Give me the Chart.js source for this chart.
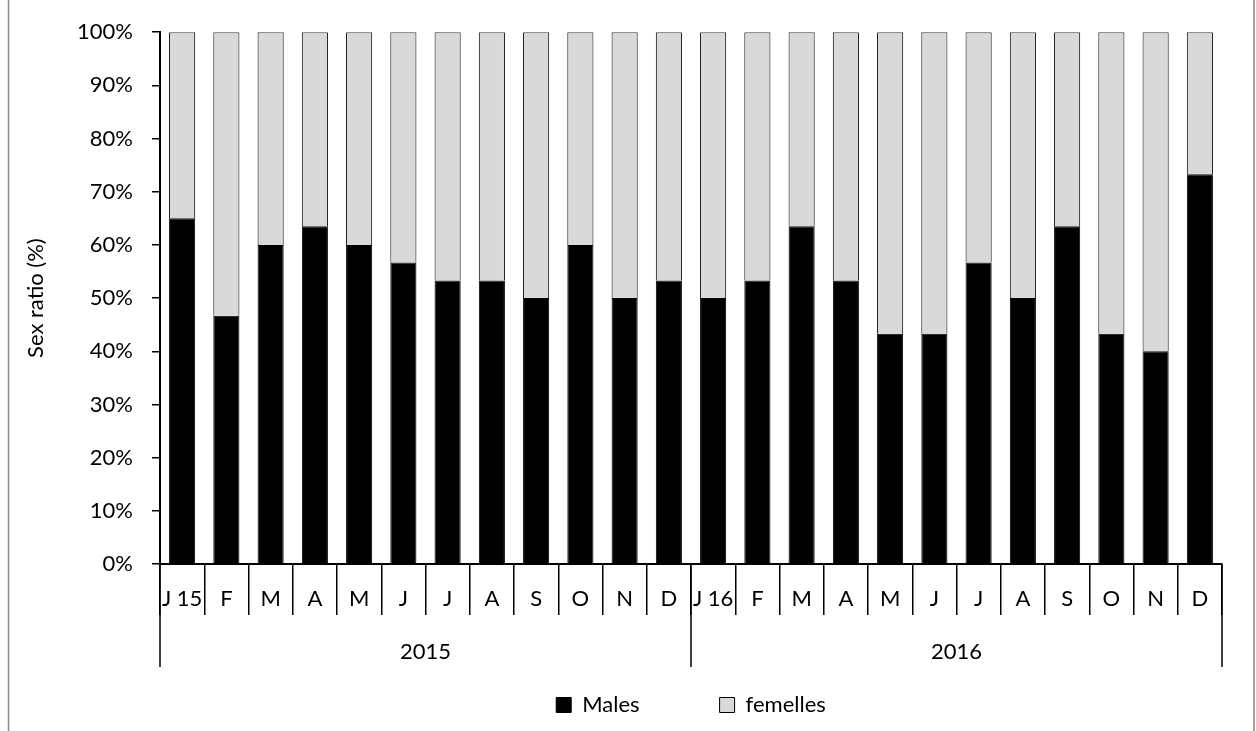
<!DOCTYPE html>
<html>
<head>
<meta charset="utf-8">
<script src="https://cdn.jsdelivr.net/npm/chart.js@4/dist/chart.umd.min.js"></script>
<style>
  body { margin: 0; background: #fff; }
  #wrap { width: 1256px; height: 731px; }
</style>
</head>
<body>
<div id="wrap"><canvas id="sexChart" width="1256" height="731"></canvas></div>
<script>
var months = ['J 15', 'F', 'M', 'A', 'M', 'J', 'J', 'A', 'S', 'O', 'N', 'D',
              'J 16', 'F', 'M', 'A', 'M', 'J', 'J', 'A', 'S', 'O', 'N', 'D'];
var years = ['2015', '2016'];
var monthsPerYear = 12;
var males = [65, 46.7, 60, 63.5, 60, 56.7, 53.3, 53.3, 50, 60, 50, 53.3,
             50, 53.3, 63.5, 53.3, 43.3, 43.3, 56.7, 50, 63.5, 43.3, 40, 73.3];
var femelles = [35, 53.3, 40, 36.5, 40, 43.3, 46.7, 46.7, 50, 40, 50, 46.7,
                50, 46.7, 36.5, 46.7, 56.7, 56.7, 43.3, 50, 36.5, 56.7, 60, 26.7];
var yTicks = [0, 10, 20, 30, 40, 50, 60, 70, 80, 90, 100];

var fontFamily = 'Lato';
var fontSize = 22;

// year row + long separators under the month axis, plus the outer frame
var yearAxis = {
     id: 'yearAxis',
     afterDraw: function(chart) {
          var ctx = chart.ctx;
          var x = chart.scales.x;
          var step = x.getPixelForValue(1) - x.getPixelForValue(0);
          var top = x.top;
          ctx.save();
          ctx.strokeStyle = '#000';
          ctx.lineWidth = 1.5;
          for (var g = 0; g <= years.length; g++) {
               var px = x.getPixelForValue(g * monthsPerYear) - step / 2;
               ctx.beginPath();
               ctx.moveTo(px, top);
               ctx.lineTo(px, top + 103);
               ctx.stroke();
          }
          ctx.fillStyle = '#000';
          ctx.font = fontSize + 'px ' + fontFamily;
          ctx.textAlign = 'center';
          ctx.textBaseline = 'middle';
          for (var i = 0; i < years.length; i++) {
               var a = x.getPixelForValue(i * monthsPerYear) - step / 2;
               var b = x.getPixelForValue((i + 1) * monthsPerYear) - step / 2;
               ctx.fillText(years[i], (a + b) / 2, top + 88);
          }
          ctx.strokeStyle = '#8c8c8c';
          ctx.lineWidth = 1.5;
          ctx.beginPath();
          ctx.moveTo(8.5, 0);
          ctx.lineTo(8.5, chart.height);
          ctx.moveTo(chart.width - 2, 0);
          ctx.lineTo(chart.width - 2, chart.height);
          ctx.stroke();
          ctx.restore();
     }
};

new Chart(document.getElementById('sexChart'), {
     type: 'bar',
     data: {
          labels: months,
          datasets: [
               {
                    label: 'Males',
                    data: males,
                    backgroundColor: '#000000',
                    borderColor: '#000000',
                    borderWidth: 1,
                    barPercentage: 0.59,
                    categoryPercentage: 1
               },
               {
                    label: 'femelles',
                    data: femelles,
                    backgroundColor: '#d9d9d9',
                    borderColor: '#000000',
                    borderWidth: 1,
                    barPercentage: 0.59,
                    categoryPercentage: 1
               }
          ]
     },
     options: {
          responsive: false,
          animation: false,
          layout: {
               padding: { top: 32, left: 0, right: 34, bottom: 5 }
          },
          font: { family: fontFamily, size: fontSize },
          color: '#000',
          plugins: {
               tooltip: { enabled: false },
               legend: {
                    position: 'bottom',
                    fullSize: false,
                    labels: {
                         boxWidth: 15,
                         boxHeight: 15,
                         padding: 80,
                         color: '#000',
                         font: { family: fontFamily, size: fontSize }
                    }
               }
          },
          scales: {
               x: {
                    stacked: true,
                    grid: {
                         offset: true,
                         drawOnChartArea: false,
                         tickLength: 51,
                         color: '#000',
                         lineWidth: 1.5
                    },
                    border: { color: '#000', width: 2 },
                    ticks: {
                         autoSkip: false,
                         maxRotation: 0,
                         minRotation: 0,
                         padding: -29,
                         color: '#000',
                         font: { family: fontFamily, size: fontSize }
                    },
                    afterFit: function(scale) { scale.height = 50; }
               },
               y: {
                    stacked: true,
                    min: 0,
                    max: 100,
                    afterBuildTicks: function(scale) {
                         scale.ticks = yTicks.map(function(v) { return { value: v }; });
                    },
                    grid: {
                         drawOnChartArea: false,
                         tickLength: 8,
                         color: '#000',
                         lineWidth: 1.5
                    },
                    border: { color: '#000', width: 2 },
                    ticks: {
                         padding: 19,
                         color: '#000',
                         font: { family: fontFamily, size: fontSize },
                         callback: function(value) { return value + '%'; }
                    },
                    title: {
                         display: true,
                         text: 'Sex ratio (%)',
                         color: '#000',
                         padding: { top: 23, bottom: 0 },
                         font: { family: fontFamily, size: fontSize }
                    },
                    afterFit: function(scale) { scale.width = 160; }
               }
          }
     },
     plugins: [yearAxis]
});
</script>
</body>
</html>
